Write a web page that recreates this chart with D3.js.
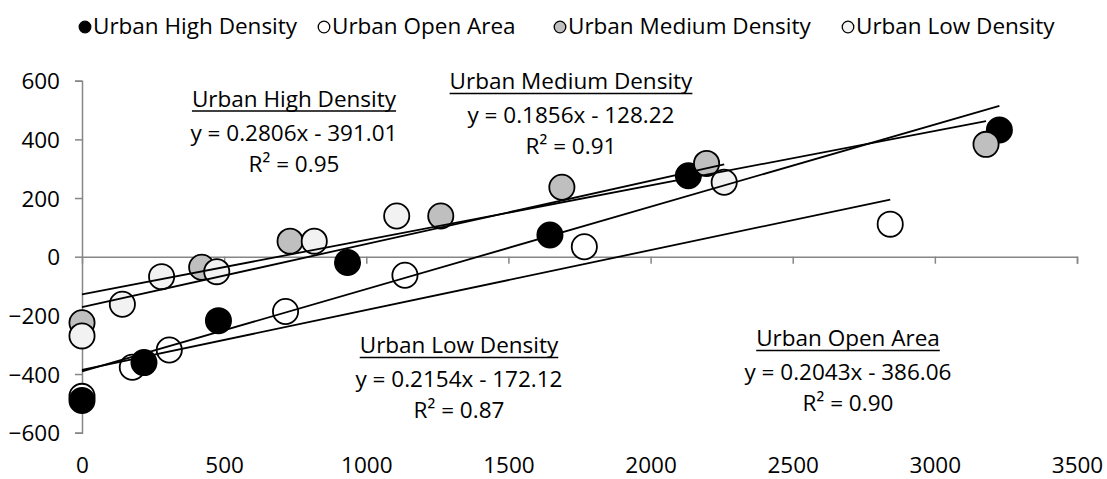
<!DOCTYPE html>
<html>
<head>
<meta charset="utf-8">
<script src="https://cdn.jsdelivr.net/npm/d3@7"></script>
<style>
  html, body { margin: 0; padding: 0; background: #fff; }
  svg { display: block; }
  text { font-family: "Open Sans", "Noto Sans", sans-serif; fill: #000; }
</style>
</head>
<body>
<svg id="chart" width="1107" height="479"></svg>
<script>
// Series names, in legend order
const seriesNames = ["Urban High Density", "Urban Open Area", "Urban Medium Density", "Urban Low Density"];

// Observations per series (x, y)
const highX   = [0, 218, 480, 934, 1646, 2133, 3227];
const highY   = [-490, -361, -218, -20, 74, 276, 432];
const openX   = [0, 177, 307, 716, 1136, 1767, 2843];
const openY   = [-476, -377, -318, -187, -63, 34, 111];
const mediumX = [0, 421, 732, 1262, 1688, 2197, 3180];
const mediumY = [-225, -36, 53, 139, 237, 318, 383];
const lowX    = [0, 142, 280, 474, 817, 1107, 2259];
const lowY    = [-270, -162, -68, -51, 53, 139, 254];

// Linear fits per series: slope, intercept, R²
const slopes     = [0.2806, 0.2043, 0.1856, 0.2154];
const intercepts = [-391.01, -386.06, -128.22, -172.12];
const rSquared   = [0.95, 0.90, 0.91, 0.87];

// Axis ticks
const xTicks = [0, 500, 1000, 1500, 2000, 2500, 3000, 3500];
const yTicks = [-600, -400, -200, 0, 200, 400, 600];

const fills = ["#000000", "#ffffff", "#bfbfbf", "#f2f2f2"];
const xs = [highX, openX, mediumX, lowX];
const ys = [highY, openY, mediumY, lowY];

const series = seriesNames.map((name, i) => ({
  name, fill: fills[i], slope: slopes[i], intercept: intercepts[i], r2: rSquared[i],
  points: xs[i].map((x, j) => ({ x, y: ys[i][j] }))
}));

// Placement of the fit labels (centre x, title baseline)
const labelPos = {
  "Urban High Density":   [294, 106.5],
  "Urban Medium Density": [571, 89],
  "Urban Low Density":    [459, 353],
  "Urban Open Area":      [848, 346]
};
// Legend key centres along the top row
const legendKeyX = [85, 324, 560, 848];

const svg = d3.select("#chart");
const FONT = 22.5;

const x = d3.scaleLinear().domain([0, 3500]).range([82, 1077]);
const y = d3.scaleLinear().domain([-600, 600]).range([432.7, 80.7]);

// Y axis
const yAxis = svg.append("g").attr("transform", `translate(${x(0)},0)`)
  .call(d3.axisLeft(y).tickValues(yTicks).tickSize(7).tickPadding(15).tickFormat(d3.format("d")));
// X axis sits on y = 0
const xAxis = svg.append("g").attr("transform", `translate(0,${y(0)})`)
  .call(d3.axisBottom(x).tickValues(xTicks).tickSize(7).tickFormat(d3.format("d")));

[xAxis, yAxis].forEach(g => {
  g.attr("font-family", null).attr("font-size", FONT);
  g.select(".domain").attr("stroke", "#868686").attr("stroke-width", 1.5);
  g.selectAll(".tick line").attr("stroke", "#868686").attr("stroke-width", 1.5);
  g.selectAll(".tick text").attr("fill", "#000");
});
yAxis.selectAll(".tick text").attr("dy", "0.36em");
// X tick labels run along the bottom of the chart, below the -600 line
xAxis.selectAll(".tick text").attr("y", y(-600) - y(0) + 40.5).attr("dy", 0);
xAxis.selectAll(".tick").filter(d => d === 0).select("line").remove();

// Markers: drawn so the darker series sit under the lighter ones
const drawOrder = ["Urban Open Area", "Urban High Density", "Urban Medium Density", "Urban Low Density"];
const markers = svg.append("g");
drawOrder.forEach(n => {
  const s = series.find(d => d.name === n);
  markers.append("g").selectAll("circle").data(s.points).join("circle")
    .attr("cx", d => x(d.x)).attr("cy", d => y(d.y)).attr("r", 12.6)
    .attr("fill", s.fill).attr("stroke", "#000").attr("stroke-width", 1.8);
});

// Trend lines over the markers, from x = 0 to the series' largest x
const lines = svg.append("g");
series.forEach(s => {
  const xMax = d3.max(s.points, d => d.x);
  lines.append("line")
    .attr("x1", x(0)).attr("y1", y(s.intercept))
    .attr("x2", x(xMax)).attr("y2", y(s.slope * xMax + s.intercept))
    .attr("stroke", "#000").attr("stroke-width", 1.8);
});

// Fit labels
const fmtEq = s => `y = ${s.slope.toFixed(4)}x - ${Math.abs(s.intercept).toFixed(2)}`;
series.forEach(s => {
  const [cx, by] = labelPos[s.name];
  const g = svg.append("g").attr("text-anchor", "middle").attr("font-size", FONT);
  const t = g.append("text").attr("x", cx).attr("y", by).text(s.name);
  const w = t.node().getComputedTextLength();
  g.append("line").attr("x1", cx - w / 2).attr("x2", cx + w / 2)
    .attr("y1", by + 4.5).attr("y2", by + 4.5).attr("stroke", "#000").attr("stroke-width", 1.6);
  g.append("text").attr("x", cx).attr("y", by + 34).text(fmtEq(s));
  g.append("text").attr("x", cx).attr("y", by + 65).text(`R² = ${s.r2.toFixed(2)}`);
});

// Legend
const legend = svg.append("g").attr("font-size", FONT);
series.forEach((s, i) => {
  const lx = legendKeyX[i];
  legend.append("circle").attr("cx", lx).attr("cy", 27).attr("r", 5.8)
    .attr("fill", s.fill).attr("stroke", "#000").attr("stroke-width", 1.3);
  legend.append("text").attr("x", lx + 8).attr("y", 34).text(s.name);
});
</script>
</body>
</html>
